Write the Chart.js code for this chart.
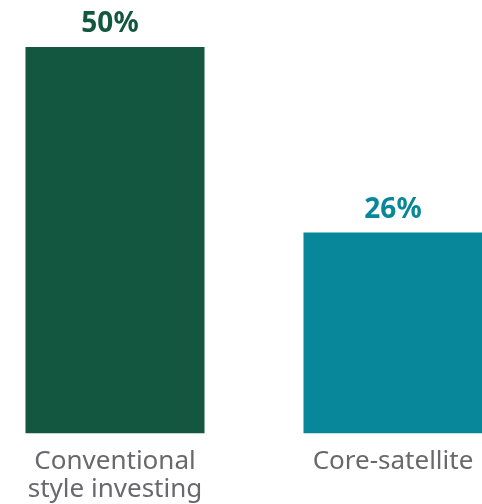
<!DOCTYPE html>
<html>
<head>
<meta charset="utf-8">
<script src="https://cdn.jsdelivr.net/npm/chart.js@4/dist/chart.umd.min.js"></script>
<style>
  html, body { margin: 0; padding: 0; background: #fff; overflow: hidden; }
  #wrap { position: absolute; left: -24px; top: 0; width: 556px; height: 504px; }
</style>
</head>
<body>
<div id="wrap"><canvas id="chart"></canvas></div>
<script>
// Chart data
const categories = [['Conventional', 'style investing'], 'Core-satellite'];
const shares = [50, 26];
const barColors = ['#145740', '#08879b'];

// Value labels above the bars
const valueLabels = {
  id: 'valueLabels',
  afterDatasetsDraw(chart) {
    const ctx = chart.ctx;
    const meta = chart.getDatasetMeta(0);
    ctx.save();
    ctx.font = 'bold 28px "Noto Sans"';
    ctx.textAlign = 'center';
    ctx.textBaseline = 'alphabetic';
    meta.data.forEach((bar, i) => {
      ctx.fillStyle = barColors[i];
      ctx.fillText(shares[i] + '%', bar.x - (i === 0 ? 5 : 0), bar.y - 15);
    });
    ctx.restore();
  }
};

new Chart(document.getElementById('chart'), {
  type: 'bar',
  data: {
    labels: categories,
    datasets: [{
      data: shares,
      backgroundColor: barColors,
      borderWidth: 0,
      categoryPercentage: 1,
      barPercentage: 0.644
    }]
  },
  options: {
    responsive: true,
    maintainAspectRatio: false,
    animation: false,
    layout: { padding: { top: 47, left: 0, right: 0, bottom: 0 } },
    plugins: { legend: { display: false }, tooltip: { enabled: false } },
    scales: {
      y: { display: false, min: 0, max: 50 },
      x: {
        grid: { display: false, drawTicks: false },
        border: { display: false },
        ticks: {
          color: '#68686d',
          font: { family: 'Noto Sans', size: 26, lineHeight: 1.08 },
          padding: 14,
          maxRotation: 0,
          autoSkip: false
        },
        afterFit(scale) { scale.height = 70.5; }
      }
    }
  },
  plugins: [valueLabels]
});
</script>
</body>
</html>
